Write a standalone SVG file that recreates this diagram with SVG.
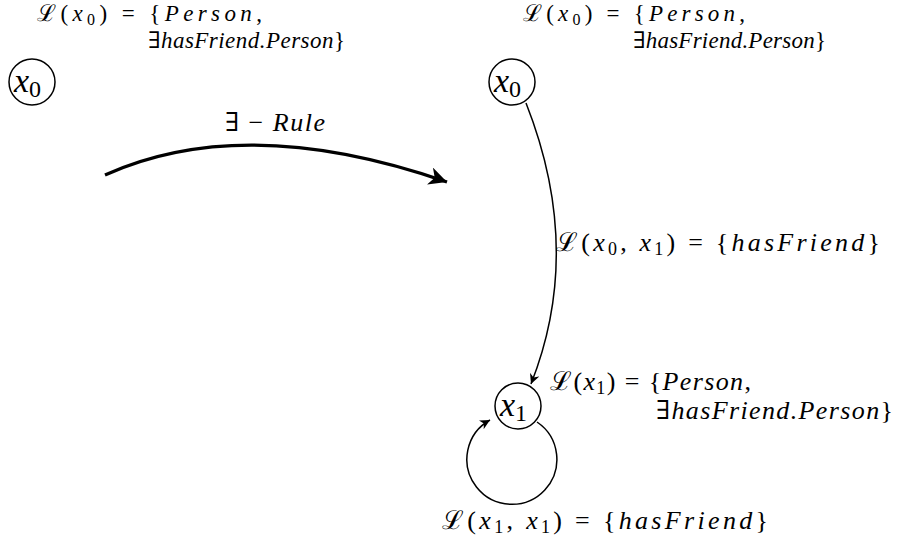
<svg xmlns="http://www.w3.org/2000/svg" width="898" height="541" viewBox="0 0 898 541">
<style>
.m { font-family: "Liberation Serif", "DejaVu Serif", serif; font-size: 26px; fill: #000; }
.t { font-size: 23px; }
.i { font-style: italic; }
.s { font-size: 18px; }
.t .s { font-size: 16px; }
.nl { font-family: "Liberation Serif", "DejaVu Serif", serif; font-size: 34px; fill: #000; }
.nl .s { font-size: 24px; }
.node circle { fill: #fff; stroke: #000; stroke-width: 1.5; }
.edge { fill: none; stroke: #000; stroke-width: 1.5; }
.rule { fill: none; stroke: #000; stroke-width: 3.2; }
</style>
<defs>
<marker id="ah" markerWidth="12" markerHeight="10" refX="10" refY="5" orient="auto" markerUnits="userSpaceOnUse">
<path d="M0,0 L10,5 L0,10 L3,5 Z" fill="#000"/>
</marker>
<marker id="bigah" markerWidth="22" markerHeight="18" refX="18" refY="9" orient="auto" markerUnits="userSpaceOnUse">
<path d="M0,0 L18,9 L0,18 L5,9 Z" fill="#000"/>
</marker>
</defs>

<g id="labels">
<text class="m t" x="37" y="21" textLength="225">ℒ(<tspan class="i">x</tspan><tspan class="s" dy="4">0</tspan><tspan dy="-4">) = {</tspan><tspan class="i">Person</tspan>,</text>
<text class="m t" x="148" y="48" textLength="197">∃<tspan class="i">hasFriend.Person</tspan>}</text>

<text class="m t" x="523" y="21" textLength="222">ℒ(<tspan class="i">x</tspan><tspan class="s" dy="4">0</tspan><tspan dy="-4">) = {</tspan><tspan class="i">Person</tspan>,</text>
<text class="m t" x="633" y="48" textLength="193">∃<tspan class="i">hasFriend.Person</tspan>}</text>

<text class="m" x="225" y="131" textLength="100">∃ − <tspan class="i">Rule</tspan></text>

<text class="m" x="556" y="251" textLength="324">ℒ(<tspan class="i">x</tspan><tspan class="s" dy="4">0</tspan><tspan dy="-4">, </tspan><tspan class="i">x</tspan><tspan class="s" dy="4">1</tspan><tspan dy="-4">) = {</tspan><tspan class="i">hasFriend</tspan>}</text>

<text class="m" x="550" y="390" textLength="201">ℒ(<tspan class="i">x</tspan><tspan class="s" dy="4">1</tspan><tspan dy="-4">) = {</tspan><tspan class="i">Person</tspan>,</text>
<text class="m" x="656" y="419" textLength="237">∃<tspan class="i">hasFriend.Person</tspan>}</text>

<text class="m" x="442" y="529" textLength="326">ℒ(<tspan class="i">x</tspan><tspan class="s" dy="4">1</tspan><tspan dy="-4">, </tspan><tspan class="i">x</tspan><tspan class="s" dy="4">1</tspan><tspan dy="-4">) = {</tspan><tspan class="i">hasFriend</tspan>}</text>
</g>

<g id="connectors">
<path class="rule" d="M105,175 Q245,112 447,182" marker-end="url(#bigah)"/>
<path class="edge" d="M526,103 Q584,250 531,384" marker-end="url(#ah)"/>
<path class="edge" d="M537,422 A45,45 0 1 1 490,420" marker-end="url(#ah)"/>
</g>

<g id="node-left-x0" class="node">
<circle cx="32" cy="82" r="23"/>
<text class="nl" x="14" y="92"><tspan class="i">x</tspan><tspan class="s" dy="5">0</tspan></text>
</g>
<g id="node-right-x0" class="node">
<circle cx="512" cy="82" r="23"/>
<text class="nl" x="494" y="92"><tspan class="i">x</tspan><tspan class="s" dy="5">0</tspan></text>
</g>
<g id="node-x1" class="node">
<circle cx="518" cy="406" r="23"/>
<text class="nl" x="500" y="416"><tspan class="i">x</tspan><tspan class="s" dy="5">1</tspan></text>
</g>
</svg>
